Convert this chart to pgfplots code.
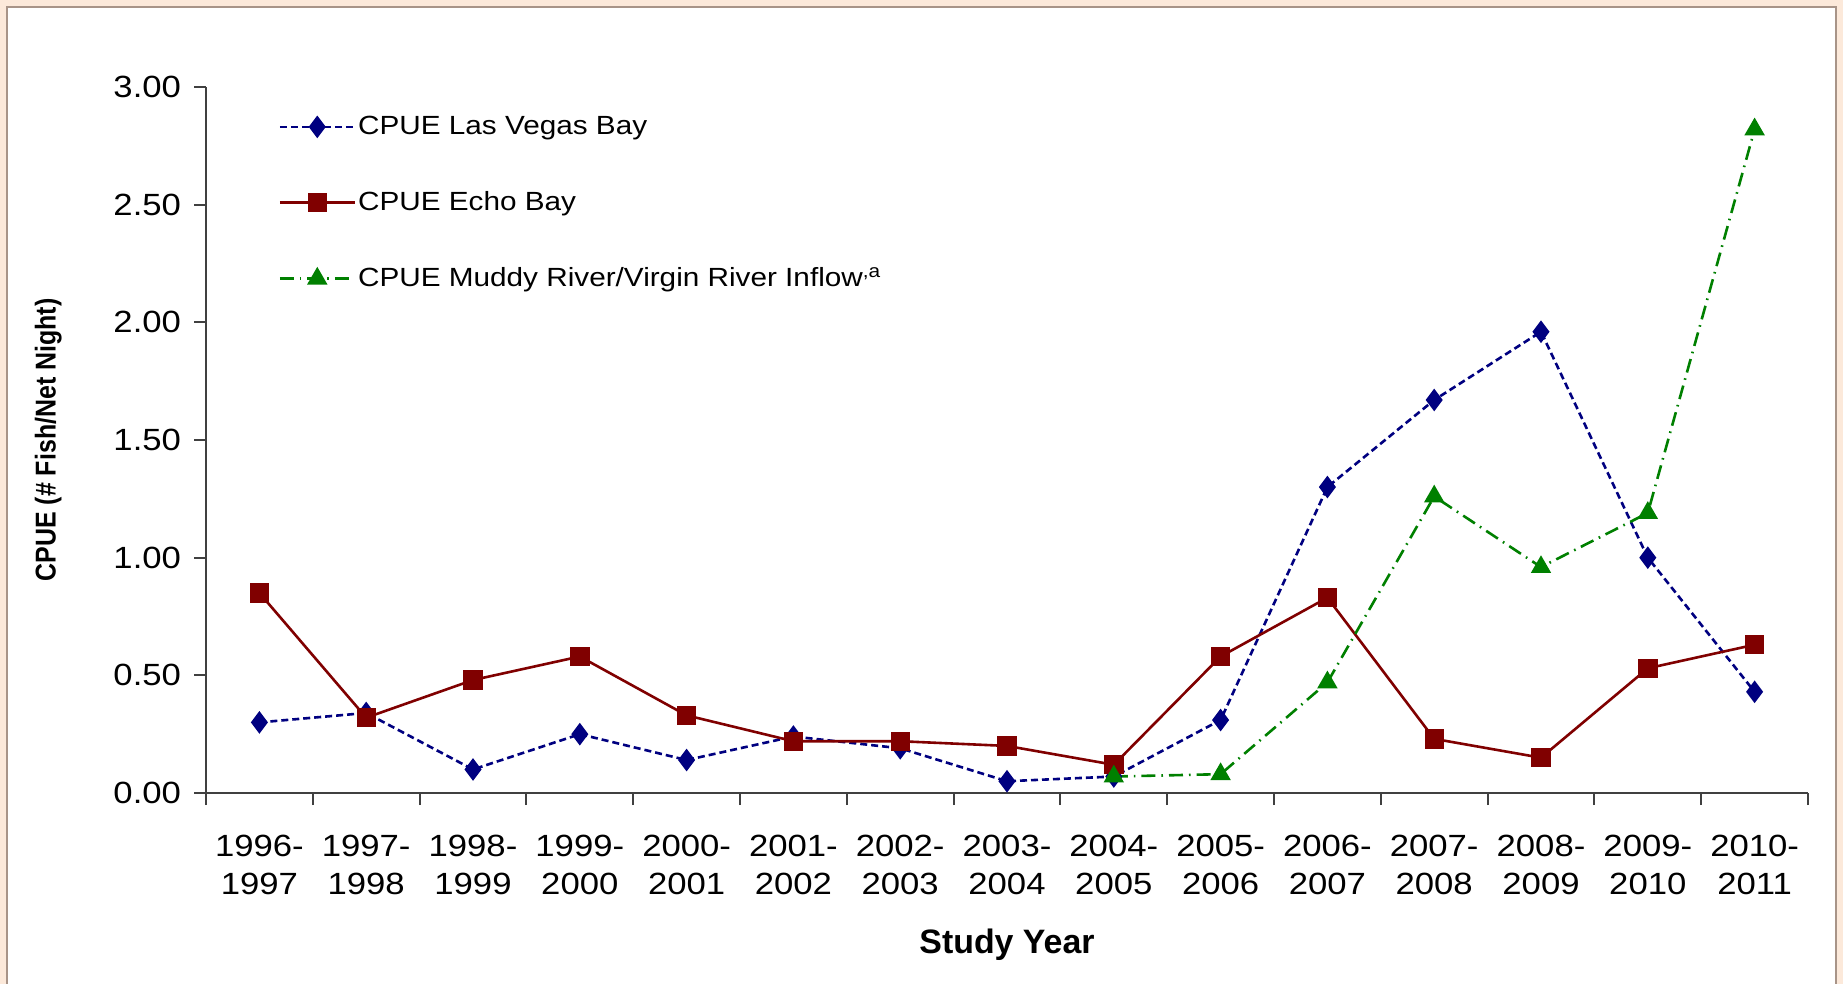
\documentclass[border=0pt]{standalone}
\usepackage{pgfplots}
\pgfplotsset{compat=1.18}
\usepackage{fontspec}
\setmainfont{Liberation Sans}
\newfontfamily\stretched{Liberation Sans}[FakeStretch=1.13]
\newfontfamily\condensed{Liberation Sans}[FakeStretch=0.87]
\definecolor{cream}{HTML}{FCE9DA}
\definecolor{framec}{HTML}{A89488}
\definecolor{navy}{HTML}{000080}
\definecolor{darkred}{HTML}{800000}
\definecolor{dgreen}{HTML}{008000}
\begin{document}
\begin{tikzpicture}
\useasboundingbox (0,0) rectangle (921.5bp,492bp);
\fill[cream] (0,0) rectangle (921.5bp,492bp);
\draw[framec, line width=1bp, fill=white] (3.6bp,-10bp) rectangle (918bp,488.6bp);
\begin{axis}[
  scale only axis,
  width=801bp, height=353bp,
  at={(103bp,95.5bp)}, anchor=south west,
  xmin=-0.5, xmax=14.5,
  ymin=0, ymax=3,
  axis x line=bottom, axis y line=left,
  axis line style={-, draw=black!75, line width=1bp},
  tick align=outside,
  tick style={draw=black!75, line width=1bp},
  major tick length=6bp,
  x tick label as interval,
  xtick={-0.5,0.5,...,14.5},
  xticklabels={{1996-\\1997},{1997-\\1998},{1998-\\1999},{1999-\\2000},{2000-\\2001},{2001-\\2002},{2002-\\2003},{2003-\\2004},{2004-\\2005},{2005-\\2006},{2006-\\2007},{2007-\\2008},{2008-\\2009},{2009-\\2010},{2010-\\2011}},
  xticklabel style={align=center, font=\stretched\fontsize{15.4}{19}\selectfont, yshift=-11.5bp},
  ytick={0,0.5,...,3},
  yticklabel style={font=\stretched\fontsize{15.4}{19}\selectfont, xshift=-3bp},
  /pgf/number format/assume math mode=true,
  yticklabel={\pgfmathprintnumber[fixed,fixed zerofill,precision=2]{\tick}},
  xlabel={\textbf{Study Year}},
  ylabel={\textbf{CPUE (\# Fish/Net Night)}},
  xlabel style={font=\fontsize{17}{20}\selectfont, yshift=-10.5bp},
  ylabel style={font=\condensed\fontsize{14.4}{17}\selectfont, yshift=19bp},
  clip=false,
  legend cell align=left,
  legend style={draw=none, fill=none, at={(0.045,0.962)}, anchor=north west,
    font=\stretched\fontsize{13.2}{15}\selectfont,
    inner sep=0pt, row sep=25bp,
    nodes={inner sep=1bp}},
  legend image code/.code={\draw[mark repeat=2,mark phase=2,#1] plot coordinates {(0bp,0bp)(18.75bp,0bp)(37.5bp,0bp)};},
]
\addplot[navy, line width=1.3bp, dash pattern=on 3.5bp off 2bp, mark=diamond*, mark size=4.6bp, mark options={solid, fill=navy}]
coordinates {(0,0.30)(1,0.34)(2,0.10)(3,0.25)(4,0.14)(5,0.24)(6,0.19)(7,0.05)(8,0.07)(9,0.31)(10,1.30)(11,1.67)(12,1.96)(13,1.00)(14,0.43)};
\addlegendentry{CPUE Las Vegas Bay}
\addplot[darkred, line width=1.3bp, mark=square*, mark size=4.2bp, mark options={solid, fill=darkred}]
coordinates {(0,0.85)(1,0.32)(2,0.48)(3,0.58)(4,0.33)(5,0.22)(6,0.22)(7,0.20)(8,0.12)(9,0.58)(10,0.83)(11,0.23)(12,0.15)(13,0.53)(14,0.63)};
\addlegendentry{CPUE Echo Bay}
\addplot[dgreen, line width=1.3bp, dash pattern=on 7bp off 3bp on 0.8bp off 3bp, mark=triangle*, mark size=4.6bp, mark options={solid, fill=dgreen}]
coordinates {(8,0.07)(9,0.08)(10,0.47)(11,1.26)(12,0.96)(13,1.19)(14,2.82)};
\addlegendentry{CPUE Muddy River/Virgin River Inflow\textsuperscript{,a}}
\end{axis}
\end{tikzpicture}
\end{document}
